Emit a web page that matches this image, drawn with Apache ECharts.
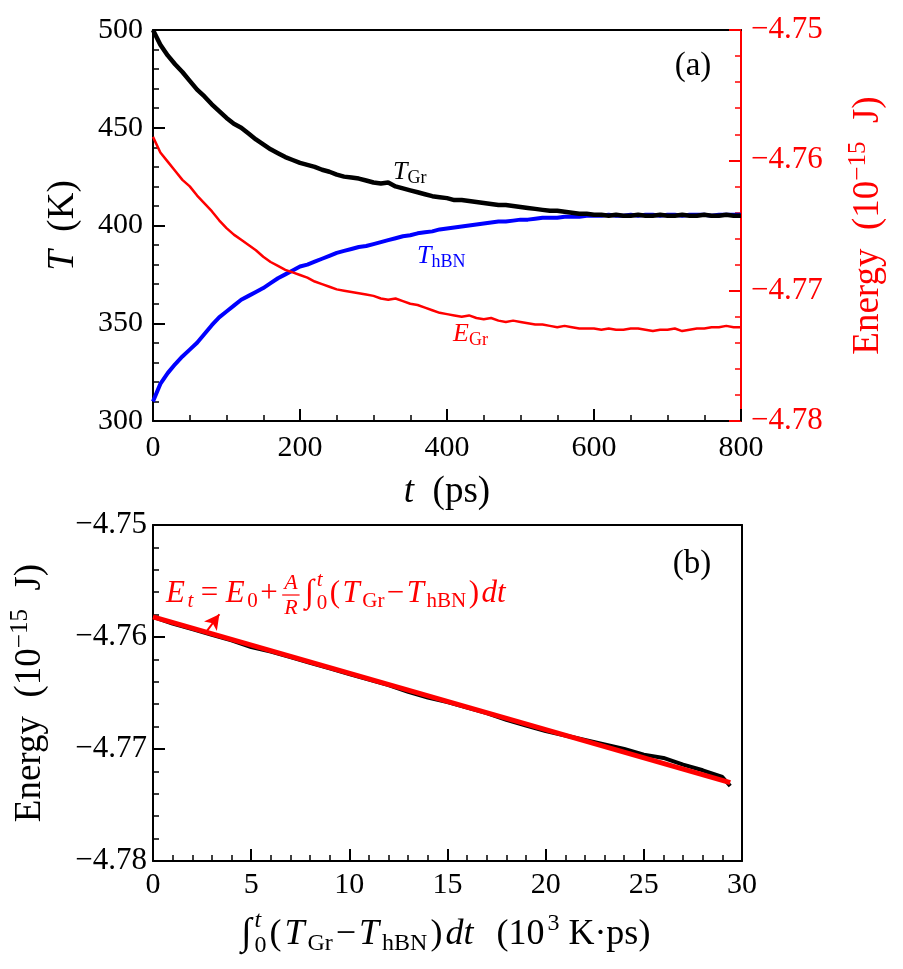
<!DOCTYPE html>
<html><head><meta charset="utf-8">
<script src="https://cdn.jsdelivr.net/npm/echarts@6/dist/echarts.min.js"></script>
<style>html,body{margin:0;padding:0;background:#fff}#c{width:903px;height:969px}</style>
</head><body><div id="c"></div>
<script>
// ---------- DATA ----------
const timePs = [0,10,20,30,40,50,60,70,80,90,100,110,120,130,140,150,160,170,180,190,200,210,220,230,240,250,260,270,280,290,300,310,320,330,340,350,360,370,380,390,400,410,420,430,440,450,460,470,480,490,500,510,520,530,540,550,560,570,580,590,600,610,620,630,640,650,660,670,680,690,700,710,720,730,740,750,760,770,780,790,800];
const tempGr = [500,492.5,487,482.5,478.5,474,469.5,466,462,458.5,455,452,450,447,444,441.5,439,437,435,433.5,432,431,430,428.5,427.5,426,425,424.5,424,423,422,421.5,422,420,419,418,417,416,415,414.5,414,413,413,412.5,412,411.5,411,410.5,410.5,410,409.5,409,408.5,408,407.5,407.5,407,406.5,406,406,405.5,405.5,405,405.5,405,405,405.5,405,405,405.5,405,405,405.5,405,405,405.5,405,405,405.5,405,405];
const tempHbn = [310,319,324.5,329,333,336.5,340,344.5,349,353,356,359,362,364,366,368,370.5,373,375,377,379,380,381.5,383,384.5,386,387,388,389,389.5,390.5,391.5,392.5,393.5,394.5,395,396,396.5,397,398,398.5,399,399.5,400,400.5,401,401.5,402,402,402.5,403,403,403.5,404,404,404,404.5,404.5,404.5,405,405,405,405.5,405,405,405.5,405,405.5,405.5,405,405.5,405.5,405,405.5,405.5,405.5,405,405.5,405.5,405.5,405.5];
const energyGr = [-4.7582,-4.7594,-4.7601,-4.7608,-4.7615,-4.7620,-4.7627,-4.7633,-4.7639,-4.7646,-4.7652,-4.7657,-4.7661,-4.7665,-4.7669,-4.7674,-4.7678,-4.7681,-4.7684,-4.7686,-4.7688,-4.7690,-4.7693,-4.7695,-4.7697,-4.7699,-4.7700,-4.7701,-4.7702,-4.7703,-4.7704,-4.7706,-4.7707,-4.7706,-4.7708,-4.7710,-4.7711,-4.7713,-4.7715,-4.7717,-4.7718,-4.7719,-4.7720,-4.7719,-4.7721,-4.7722,-4.7721,-4.7723,-4.7724,-4.7723,-4.7724,-4.7725,-4.7726,-4.7726,-4.7727,-4.7728,-4.7727,-4.7728,-4.7729,-4.7729,-4.7729,-4.7730,-4.7729,-4.7730,-4.7730,-4.7729,-4.7729,-4.7730,-4.7731,-4.7730,-4.7730,-4.7729,-4.7731,-4.7730,-4.7729,-4.7729,-4.7728,-4.7728,-4.7727,-4.7728,-4.7728];
const integralX = [0,1,2,3,4,5,6,7,8,9,10,11,12,13,14,15,16,17,18,19,20,21,22,23,24,25,26,27,28,29,29.4];
const energyVsInt = [-4.7582,-4.7588,-4.7593,-4.7598,-4.7603,-4.7609,-4.7613,-4.7618,-4.7623,-4.7628,-4.7633,-4.7638,-4.7643,-4.7649,-4.7654,-4.7658,-4.7663,-4.7668,-4.7674,-4.7679,-4.7684,-4.7688,-4.7692,-4.7696,-4.7700,-4.7705,-4.7708,-4.7714,-4.7719,-4.7725,-4.7733];
const fitX = [0, 29.4];
const fitE = [-4.7582, -4.7730];
const arrowX = [2.75, 3.38];
const arrowE = [-4.75946, -4.75797];

// ---------- HELPERS ----------
const FF = 'Liberation Serif';
const cv = document.createElement('canvas'); const ctx = cv.getContext('2d');
function fnt(s, it){ return (it ? 'italic ' : '') + s + 'px "' + FF + '"'; }
function tw(t, s, it){ ctx.font = fnt(s, it); return ctx.measureText(t).width; }
function txt(t, x, b, s, it, color, align){
  return {type:'text', x:x, y:b - 0.3*s, z:100,
    style:{text:t, fontSize:s, fontFamily:FF, fontStyle: it ? 'italic' : 'normal', fill:color, align:align || 'left', verticalAlign:'middle'}};
}
function mathLabel(segs, x0, base, color, gap){
  const els = []; let x = x0; gap = gap || 0;
  segs.forEach(g => {
    if (g.frac){
      const fw = Math.max(tw(g.frac[0], g.s, true), tw(g.frac[1], g.s, true)) + 4;
      x += 2;
      els.push(txt(g.frac[0], x + fw/2, base + g.up, g.s, true, color, 'center'));
      els.push(txt(g.frac[1], x + fw/2, base + g.dn, g.s, true, color, 'center'));
      els.push({type:'line', z:100, shape:{x1:x, y1:base + g.bar, x2:x + fw, y2:base + g.bar}, style:{stroke:color, lineWidth:1.2}});
      x += fw + 3 + gap; return;
    }
    els.push(txt(g.t, x, base + (g.dy || 0), g.s, g.it, color, 'left'));
    if (!g.stack) x += tw(g.t, g.s, g.it) + (g.sp || 0) + gap;
  });
  return els;
}
const pairs = (xs, ys) => xs.map((v, i) => [v, ys[i]]);
const fmtE = v => (v < 0 ? '\u2212' : '') + Math.abs(v).toFixed(2);

const M = 31, S = 21;
const formula = [
  {t:'E', it:1, s:M}, {t:'t', it:1, s:S, dy:5, sp:5}, {t:'=', s:M, sp:5}, {t:'E', it:1, s:M}, {t:'0', s:S, dy:5},
  {t:'+', s:M}, {frac:['A','R'], s:22, up:-13, dn:12, bar:-8}, {t:'\u222B', s:33},
  {t:'t', it:1, s:S, dy:-16, stack:true}, {t:'0', s:S, dy:7},
  {t:'(', s:M}, {t:'T', it:1, s:M}, {t:'Gr', s:S, dy:5}, {t:'\u2212', s:M}, {t:'T', it:1, s:M}, {t:'hBN', s:S, dy:5}, {t:')', s:M}, {t:'dt', it:1, s:M}
];
const L = 36, LS = 24;
const xname2 = [
  {t:'\u222B', s:38}, {t:'t', it:1, s:LS, dy:-17, stack:true}, {t:'0', s:LS, dy:8},
  {t:'(', s:L}, {t:'T', it:1, s:L}, {t:'Gr', s:LS, dy:6}, {t:'\u2212', s:L}, {t:'T', it:1, s:L}, {t:'hBN', s:LS, dy:6}, {t:')', s:L}, {t:'dt', it:1, s:L, sp:20},
  {t:'(10', s:L}, {t:'3', s:LS, dy:-14, sp:6}, {t:'K\u00B7ps)', s:L}
];

const graphics = [].concat(
  [txt('(a)', 693, 76, 33, false, '#000', 'center'), txt('(b)', 692, 574, 33, false, '#000', 'center')],
  mathLabel([{t:'T', it:1, s:26}, {t:'Gr', s:18, dy:4}], 393, 180, '#000'),
  mathLabel([{t:'T', it:1, s:26}, {t:'hBN', s:18, dy:4}], 417, 264, '#0000ff'),
  mathLabel([{t:'E', it:1, s:26}, {t:'Gr', s:18, dy:4}], 453, 342, '#ff0000'),
  mathLabel(formula, 166, 603, '#ff0000', 2.5),
  mathLabel(xname2, 241, 945, '#000', 3)
);

// ---------- AXES ----------
const black = '#000', red = '#ff0000';
const TL = 30, NL = 37;
function valAxis(o){
  const c = o.color || black;
  return Object.assign({
    type:'value', splitLine:{show:false},
    axisLine:{show:true, onZero:false, lineStyle:{color:c, width:2}},
    axisTick:{show:true, inside:true, length:12, lineStyle:{color:c, width:2}},
    minorTick:{show:true, length:6, lineStyle:{color:c, width:1.5}},
    axisLabel:{color:c, fontFamily:FF, fontSize:TL, margin:10}
  }, o);
}
function borderAxis(o){
  return Object.assign({type:'value', splitLine:{show:false}, axisTick:{show:false}, axisLabel:{show:false},
    axisLine:{show:true, onZero:false, lineStyle:{color:black, width:2}}}, o);
}
const nameStyle = c => ({color:c, fontFamily:FF, fontSize:NL, lineHeight:44,
  rich:{i:{fontStyle:'italic', fontFamily:FF, fontSize:NL, lineHeight:44, color:c},
        r:{fontFamily:FF, fontSize:NL, lineHeight:44, color:c},
        sup:{fontFamily:FF, fontSize:25, lineHeight:25, verticalAlign:'top', color:c}}});
const minor = (n, c) => ({show:true, splitNumber:n, length:6, lineStyle:{color:c || black, width:1.5}});

const option = {
  animation:false,
  backgroundColor:'#fff',
  grid:[{left:153, top:30, width:588, height:391}, {left:153, top:525, width:589, height:336}],
  xAxis:[
    valAxis({gridIndex:0, min:0, max:800, interval:200, minorTick:minor(4),
      axisLabel:{color:black, fontFamily:FF, fontSize:TL, margin:12},
      name:'{i|t}\u2002(ps)', nameLocation:'middle', nameGap:49, nameTextStyle:nameStyle(black)}),
    borderAxis({gridIndex:0, position:'top', min:0, max:800}),
    valAxis({gridIndex:1, min:0, max:30, interval:5, minorTick:minor(5),
      axisLabel:{color:black, fontFamily:FF, fontSize:TL, margin:9}}),
    borderAxis({gridIndex:1, position:'top', min:0, max:30})
  ],
  yAxis:[
    valAxis({gridIndex:0, min:300, max:500, interval:50, minorTick:minor(5),
      name:'{i|T}\u2002(K)', nameLocation:'middle', nameRotate:90, nameGap:68, nameTextStyle:nameStyle(black)}),
    valAxis({gridIndex:0, position:'right', color:red, min:-4.78, max:-4.75, interval:0.01, minorTick:minor(5, red),
      axisLabel:{color:red, fontFamily:FF, fontSize:31, margin:10, formatter:fmtE},
      name:'{r|Energy\u2002(10}{sup|\u221215}{r|\u2002J)}', nameLocation:'middle', nameRotate:90, nameGap:105, nameTextStyle:nameStyle(red)}),
    valAxis({gridIndex:1, min:-4.78, max:-4.75, interval:0.01, minorTick:minor(5),
      axisLabel:{color:black, fontFamily:FF, fontSize:31, margin:6, formatter:fmtE},
      name:'{r|Energy\u2002(10}{sup|\u221215}{r|\u2002J)}', nameLocation:'middle', nameRotate:90, nameGap:101, nameTextStyle:nameStyle(black)}),
    borderAxis({gridIndex:1, position:'right', min:-4.78, max:-4.75})
  ],
  series:[
    {type:'line', name:'T_hBN', xAxisIndex:0, yAxisIndex:0, data:pairs(timePs, tempHbn), showSymbol:false, lineStyle:{color:'#0000ff', width:4}, z:3},
    {type:'line', name:'T_Gr', xAxisIndex:0, yAxisIndex:0, data:pairs(timePs, tempGr), showSymbol:false, lineStyle:{color:'#000', width:4.5}, z:4},
    {type:'line', name:'E_Gr', xAxisIndex:0, yAxisIndex:1, data:pairs(timePs, energyGr), showSymbol:false, lineStyle:{color:red, width:2.5}, z:5},
    {type:'line', name:'E data', xAxisIndex:2, yAxisIndex:2, data:pairs(integralX, energyVsInt), showSymbol:false, lineStyle:{color:'#000', width:4}, z:3},
    {type:'line', name:'E fit', xAxisIndex:2, yAxisIndex:2, data:pairs(fitX, fitE), showSymbol:false, lineStyle:{color:red, width:5}, z:4,
      markLine:{silent:true, symbol:['none','arrow'], symbolSize:[12,15], label:{show:false}, lineStyle:{color:red, width:2, type:'solid'},
        data:[[{coord:[arrowX[0], arrowE[0]]}, {coord:[arrowX[1], arrowE[1]]}]]}}
  ],
  graphic:{elements:graphics}
};
const chart = echarts.init(document.getElementById('c'), null, {renderer:'canvas'});
chart.setOption(option);
</script>
</body></html>
